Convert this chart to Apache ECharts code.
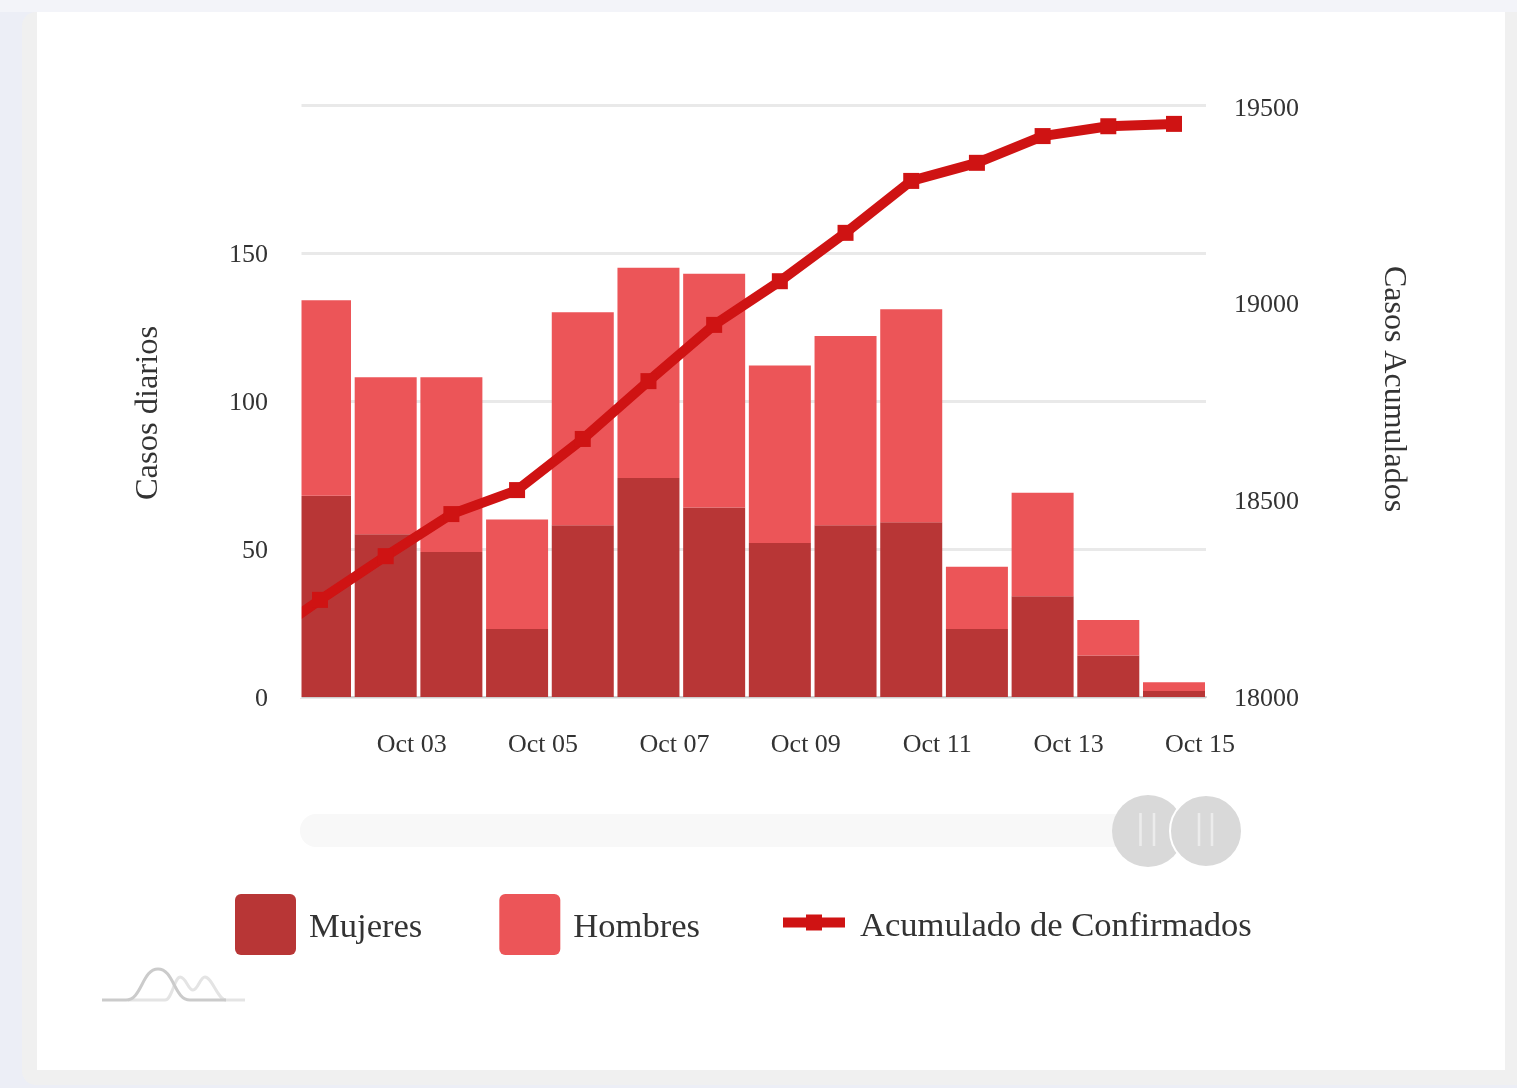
<!DOCTYPE html>
<html>
<head>
<meta charset="utf-8">
<script src="https://cdn.jsdelivr.net/npm/echarts@6/dist/echarts.min.js"></script>
<style>
html,body{margin:0;padding:0;width:1517px;height:1088px;overflow:hidden;background:#eceef6;}
#outer{position:absolute;left:22px;top:12px;width:1495px;height:1073px;background:#f0f0f0;border-radius:14px 0 0 14px;}
#topband{position:absolute;left:0;top:0;width:1517px;height:12px;background:#f3f4f9;}
#card{position:absolute;left:37px;top:12px;width:1468px;height:1058px;background:#fff;}
#chart{position:absolute;left:0;top:0;width:1517px;height:1088px;}
</style>
</head>
<body>
<div id="outer"></div><div id="topband"></div><div id="card"></div>
<div id="chart"></div>
<script>
const days = ['2020-10-01','2020-10-02','2020-10-03','2020-10-04','2020-10-05','2020-10-06','2020-10-07','2020-10-08','2020-10-09','2020-10-10','2020-10-11','2020-10-12','2020-10-13','2020-10-14','2020-10-15'];
const mujeres = [null,68,55,49,23,58,74,64,52,58,59,23,34,14,2];
const hombres = [null,66,53,59,37,72,71,79,60,64,72,21,35,12,3];
const acumulado = [18130,18247,18358,18465,18526,18656,18803,18946,19057,19180,19312,19358,19426,19451,19457];
const tickDays = ['2020-10-03','2020-10-05','2020-10-07','2020-10-09','2020-10-11','2020-10-13','2020-10-15'];
const monthNames = ['Jan','Feb','Mar','Apr','May','Jun','Jul','Aug','Sep','Oct','Nov','Dec'];

const DAY = 86400000;
const ts = d => Date.parse(d + 'T00:00:00Z');
const pair = arr => days.map((d, i) => [ts(d), arr[i]]);
const font = '"Liberation Serif","Times New Roman",serif';
const bright = '#cf1313';
const xMin = ts('2020-10-02') - 20/65.69*DAY;
const xMax = ts('2020-10-15') + 32/65.69*DAY;
// A time axis widens its range to fit the bars' width, so pull the limits in by the same amount.
const barPx = 62, plotPx = 906;
const barBuffer = (xMax - xMin) * barPx / plotPx / 2;
const curve = (x1,y1,cpx1,cpy1,cpx2,cpy2,x2,y2,stroke) => ({type:'bezierCurve',silent:true,shape:{x1,y1,cpx1,cpy1,cpx2,cpy2,x2,y2},style:{fill:'none',stroke,lineWidth:3}});
const seg = (x1,x2,y,stroke) => ({type:'line',silent:true,shape:{x1,y1:y,x2,y2:y},style:{stroke,lineWidth:3}});
const grip = x => ({type:'line',silent:true,shape:{x1:x,y1:813,x2:x,y2:846},style:{stroke:'#ececec',lineWidth:2.5}});
const roundIcon = 'path://M6,0 H56 A6,6 0 0 1 62,6 V56 A6,6 0 0 1 56,62 H6 A6,6 0 0 1 0,56 V6 A6,6 0 0 1 6,0 Z';
const legendText = (top, left) => ({fontFamily: font, fontSize: 34.6, color: '#333', padding: [top,0,0,left]});

const chart = echarts.init(document.getElementById('chart'), null, {renderer: 'canvas'});
chart.setOption({
  animation: false,
  backgroundColor: 'transparent',
  textStyle: {fontFamily: font},
  grid: {left: 300, right: 311, top: 105, bottom: 391, containLabel: false},
  legend: [
    {
      data: ['Mujeres', 'Hombres'],
      left: 235, top: 894, padding: 0, itemWidth: 61, itemHeight: 62, itemGap: 77,
      icon: roundIcon,
      formatter: '{t|{name}}',
      textStyle: {rich: {t: legendText(6, 8)}}
    },
    {
      data: ['Acumulado de Confirmados'],
      left: 778, top: 909, padding: 0, itemWidth: 62, itemHeight: 20,
      lineStyle: {width: 10},
      formatter: '{t|{name}}',
      textStyle: {rich: {t: legendText(8, 10)}}
    }
  ],
  xAxis: [
    {
      type: 'time', min: xMin + barBuffer, max: xMax - barBuffer,
      axisLine: {show: true, onZero: false, lineStyle: {color: '#cfcfcf', width: 2}},
      axisTick: {show: false}, splitLine: {show: false},
      axisLabel: {show: false}
    },
    {
      type: 'value', min: xMin, max: xMax, position: 'bottom',
      axisLine: {show: false}, axisTick: {show: false}, splitLine: {show: false},
      axisLabel: {
        customValues: tickDays.map(ts),
        margin: 35,
        fontFamily: font, fontSize: 26, color: '#333',
        padding: [0,0,0,52],
        hideOverlap: false,
        formatter: v => {
          const d = new Date(v);
          return monthNames[d.getUTCMonth()] + ' ' + String(d.getUTCDate()).padStart(2,'0');
        }
      }
    }
  ],
  yAxis: [
    {
      type: 'value', min: 0, max: 200, interval: 50,
      name: 'Casos diarios', nameLocation: 'middle', nameGap: 135, nameRotate: 90,
      nameTextStyle: {fontFamily: font, fontSize: 32.5, color: '#333', padding: [0,24,0,0]},
      axisLine: {show: false}, axisTick: {show: false},
      splitLine: {show: true, lineStyle: {color: '#e9e9e9', width: 3}},
      axisLabel: {
        margin: 32, fontFamily: font, fontSize: 26, color: '#333',
        verticalAlign: 'top', lineHeight: 4,
        formatter: v => v === 200 ? '' : String(v)
      }
    },
    {
      type: 'value', min: 18000, max: 19505, position: 'right',
      name: 'Casos Acumulados', nameLocation: 'middle', nameGap: 171, nameRotate: -90,
      nameTextStyle: {fontFamily: font, fontSize: 32, color: '#333', padding: [0,24,0,0]},
      axisLine: {show: false}, axisTick: {show: false},
      splitLine: {show: false},
      axisLabel: {
        customValues: [18000,18500,19000,19500],
        margin: 28, fontFamily: font, fontSize: 26, color: '#333',
        verticalAlign: 'top', lineHeight: 4,
        formatter: v => String(v)
      }
    }
  ],
  series: [
    {name: 'Mujeres', type: 'bar', stack: 'casos', xAxisIndex: 0, yAxisIndex: 0, barWidth: barPx, data: pair(mujeres),
     itemStyle: {color: '#b62f2f', opacity: 0.97}},
    {name: 'Hombres', type: 'bar', stack: 'casos', xAxisIndex: 0, yAxisIndex: 0, barWidth: barPx, data: pair(hombres),
     itemStyle: {color: '#eb5053', opacity: 0.97}},
    {name: 'Acumulado de Confirmados', type: 'line', xAxisIndex: 0, yAxisIndex: 1, data: pair(acumulado),
     symbol: 'rect', symbolSize: 16, showSymbol: true, showAllSymbol: true, z: 5,
     lineStyle: {color: bright, width: 10}, itemStyle: {color: bright}}
  ],
  graphic: [
    {type: 'rect', silent: true, z: 100, shape: {x: 282, y: 95, width: 19.5, height: 603}, style: {fill: '#fff'}},
    {type: 'rect', silent: true, shape: {x: 300, y: 814, width: 840, height: 33, r: 16}, style: {fill: '#f8f8f8'}},
    {type: 'circle', silent: true, shape: {cx: 1148, cy: 831, r: 36}, style: {fill: '#d9d9d9'}},
    grip(1140.5), grip(1154),
    {type: 'circle', silent: true, shape: {cx: 1206, cy: 831, r: 36}, style: {fill: '#d9d9d9', stroke: '#fff', lineWidth: 2}},
    grip(1199), grip(1212),
    seg(128,165,1000,'#e4e4e4'),
    curve(165,1000,172,1000,174,978,180,977,'#e4e4e4'),
    curve(180,977,186,977,188,990,193,990,'#e4e4e4'),
    curve(193,990,198,990,200,977,205,977,'#e4e4e4'),
    curve(205,977,212,977,218,1000,226,1000,'#e4e4e4'),
    seg(226,245,1000,'#e4e4e4'),
    seg(102,126,1000,'#cbcbcb'),
    curve(126,1000,142,1000,142,969,158,969,'#cbcbcb'),
    curve(158,969,174,969,174,1000,190,1000,'#cbcbcb'),
    seg(190,226,1000,'#cbcbcb')
  ]
});
</script>
</body>
</html>
